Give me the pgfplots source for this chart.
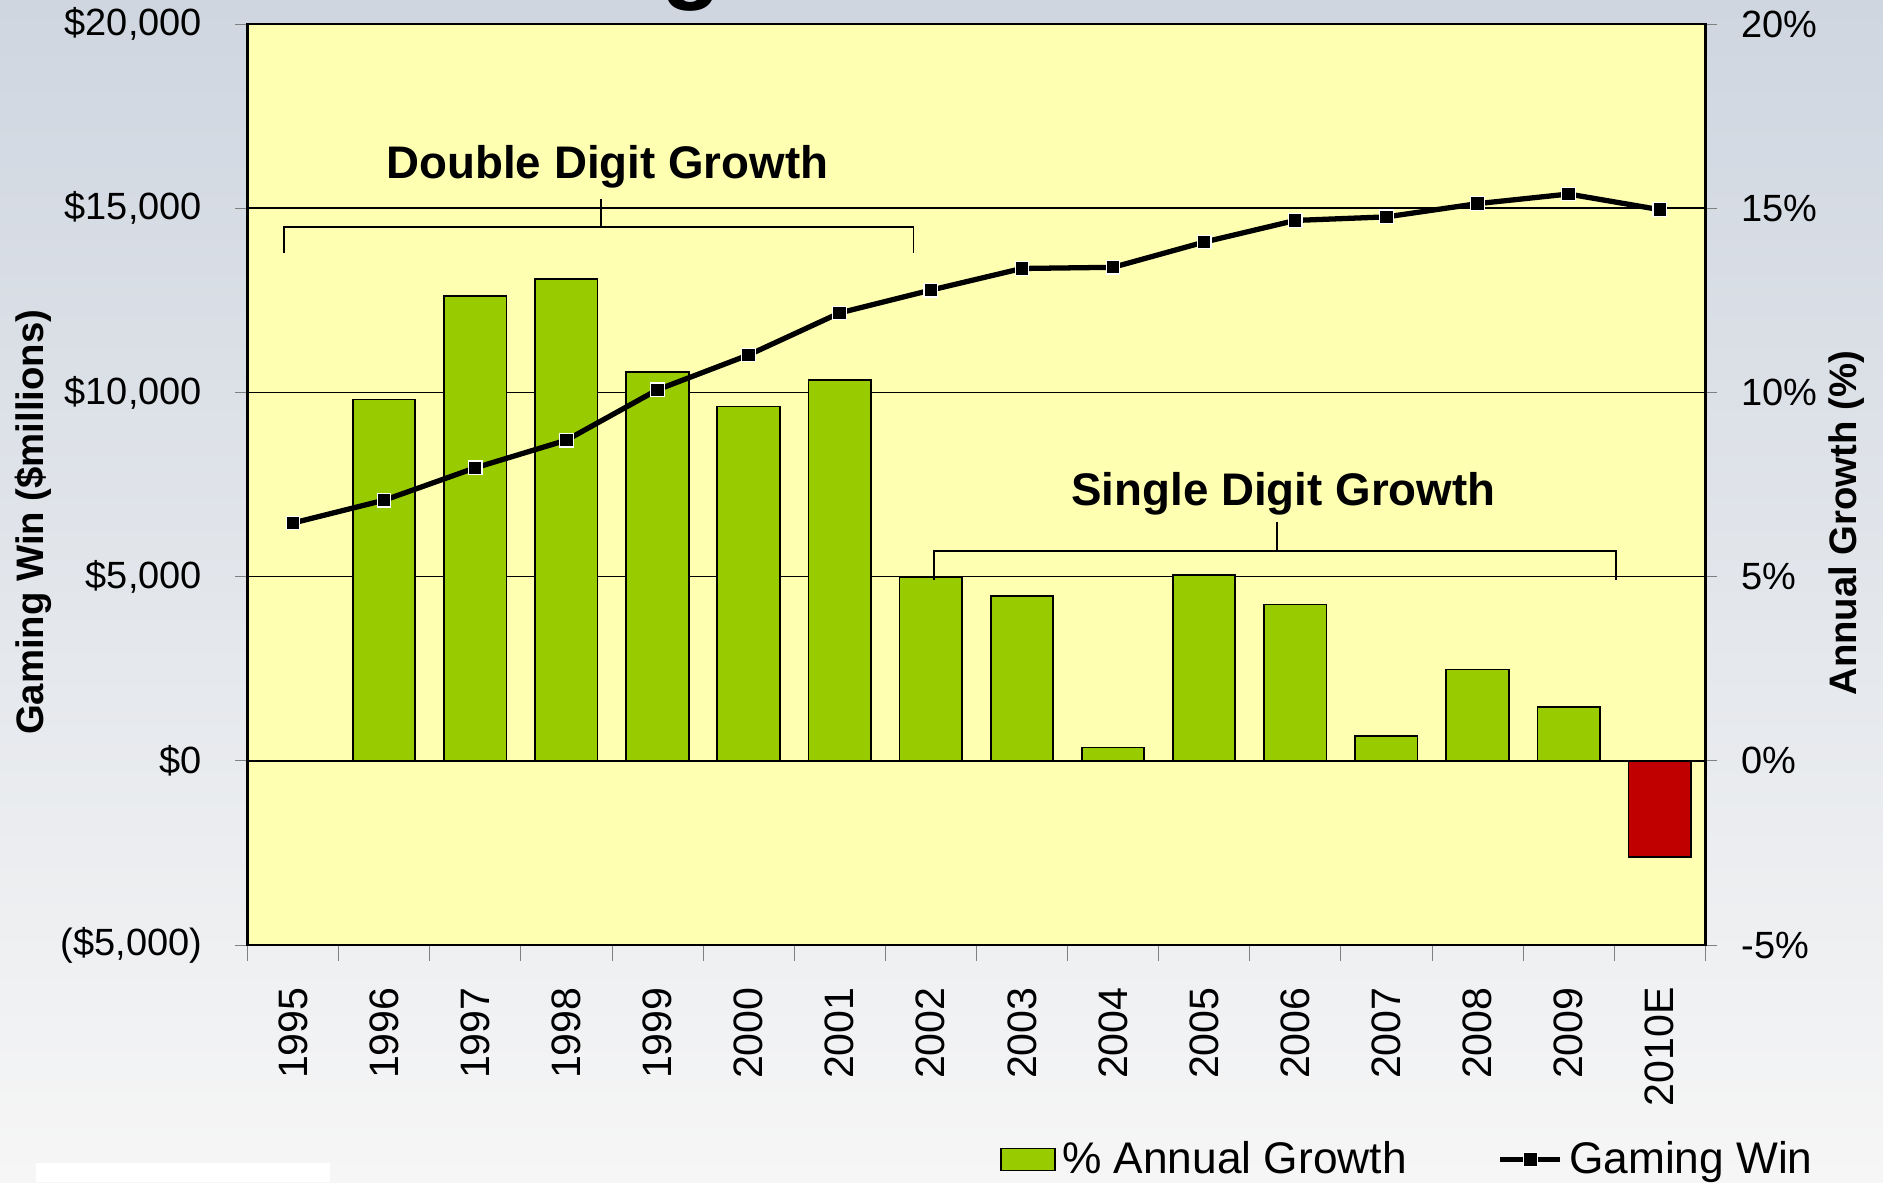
\documentclass[border=0pt]{standalone}
\usepackage{fontspec}
\setmainfont{Liberation Sans}
\usepackage{pgfplots}
\pgfplotsset{compat=1.18}
\definecolor{bgtop}{RGB}{207,214,224}
\definecolor{bgbot}{RGB}{246,246,246}
\definecolor{plotbg}{RGB}{255,255,178}
\definecolor{bargreen}{RGB}{153,204,0}
\definecolor{barred}{RGB}{192,0,0}
\newcommand{\tickfont}{\fontsize{10.8}{12}\selectfont}
\pgfplotsset{rectlegend/.style={legend image code/.code={\draw[##1] (0cm,-0.11cm) rectangle (0.54cm,0.11cm);}}}
\begin{document}
\begin{tikzpicture}
\path[use as bounding box] (0,0) rectangle (18.83,11.82);
\shade[top color=bgtop, bottom color=bgbot] (0,0) rectangle (18.83,11.82);
\fill[white] (0.36,0) rectangle (3.30,0.19);
\begin{scope}
\clip (0,0) rectangle (18.83,11.82);
\node[font=\bfseries\fontsize{28}{32}\selectfont, anchor=base, inner sep=0pt] at (6.92,11.92) {g};
\end{scope}
% right axis: percent bars
\begin{axis}[
  at={(2.474cm,2.37cm)}, anchor=south west,
  width=14.579cm, height=9.21cm, scale only axis,
  xmin=-0.5, xmax=15.5, ymin=-5, ymax=20,
  axis background/.style={fill=plotbg},
  axis line style={line width=0.8pt},
  xtick=\empty,
  ytick={-5,0,5,10,15,20},
  yticklabels={{-5\%},{0\%},{5\%},{10\%},{15\%},{20\%}},
  ytick pos=right,
  tick align=outside,
  major tick length=1.2mm,
  ymajorgrids,
  grid style={black, line width=0.45pt},
  yticklabel style={font=\tickfont, anchor=west, inner sep=0pt, xshift=2.37mm},
  ylabel={Annual Growth (\%)},
  ylabel style={at={(axis description cs:1.0972,0.458)}, anchor=center, font=\bfseries\fontsize{10.9}{12}\selectfont},
]
\addplot[ybar, bar width=0.685, bar shift=0pt, fill=bargreen, draw=black, line width=0.5pt] coordinates {
(1,9.81) (2,12.61) (3,13.07) (4,10.56) (5,9.62) (6,10.33) (7,4.99) (8,4.47) (9,0.36) (10,5.05) (11,4.24) (12,0.68) (13,2.48) (14,1.47)};
\addplot[ybar, bar width=0.685, bar shift=0pt, fill=barred, draw=black, line width=0.5pt] coordinates {(15,-2.61)};
\end{axis}
% left axis: gaming win
\begin{axis}[
  at={(2.474cm,2.37cm)}, anchor=south west,
  width=14.579cm, height=9.21cm, scale only axis,
  xmin=-0.5, xmax=15.5, ymin=-5000, ymax=20000,
  axis line style={line width=0.8pt},
  xtick={0,...,15},
  xticklabels={1995,1996,1997,1998,1999,2000,2001,2002,2003,2004,2005,2006,2007,2008,2009,2010E},
  minor xtick={-0.5,0.5,...,15.5},
  major x tick style={draw=none},
  xtick pos=bottom,
  ytick={-5000,0,5000,10000,15000,20000},
  yticklabels={{(\$5,000)},{\$0},{\$5,000},{\$10,000},{\$15,000},{\$20,000}},
  ytick pos=left,
  tick align=outside,
  major tick length=1.2mm,
  minor tick length=1.6mm,
  xticklabel shift=1.8mm,
  xticklabel style={rotate=90, anchor=east, font=\fontsize{11.7}{13}\selectfont},
  yticklabel style={font=\tickfont, anchor=east, inner sep=0pt, xshift=-3.27mm},
  ylabel={Gaming Win (\$millions)},
  ylabel style={at={(axis description cs:-0.147,0.459)}, anchor=center, font=\bfseries\fontsize{10.9}{12}\selectfont},
  legend style={at={(axis description cs:0.516,-0.233)}, anchor=west, draw=none, fill=none,
    font=\fontsize{12.6}{14}\selectfont, inner sep=0pt,
    nodes={inner sep=0.6mm}},
  legend columns=2,
  legend cell align=left,
  /tikz/every even column/.append style={column sep=8.5mm},
  clip=false,
]
\addlegendimage{fill=bargreen, draw=black, line width=0.5pt, rectlegend}
\addlegendentry{\% Annual Growth}
\addplot[black, line width=1.5pt, mark=square*, mark size=0.68mm, mark options={fill=black, draw=white, line width=0.35pt}] coordinates {
(0,6455) (1,7073) (2,7953) (3,8703) (4,10072) (5,11017) (6,12158) (7,12777) (8,13364) (9,13396) (10,14081) (11,14668) (12,14765) (13,15124) (14,15385) (15,14961)};
\addlegendentry{Gaming Win}
\draw[black, line width=0.5pt] (axis cs:-0.098,13784) |- (axis cs:6.81,14497) -- (axis cs:6.81,13784);
\draw[black, line width=0.5pt] (axis cs:3.381,14497) -- (axis cs:3.381,15250);
\node[anchor=base, font=\bfseries\fontsize{13}{15}\selectfont] at (axis cs:3.45,15800) {Double Digit Growth};
\draw[black, line width=0.5pt] (axis cs:7.037,4908) |- (axis cs:14.52,5695) -- (axis cs:14.52,4908);
\draw[black, line width=0.5pt] (axis cs:10.80,5695) -- (axis cs:10.80,6490);
\node[anchor=base, font=\bfseries\fontsize{13}{15}\selectfont] at (axis cs:10.87,6924) {Single Digit Growth};
\end{axis}
\end{tikzpicture}
\end{document}
